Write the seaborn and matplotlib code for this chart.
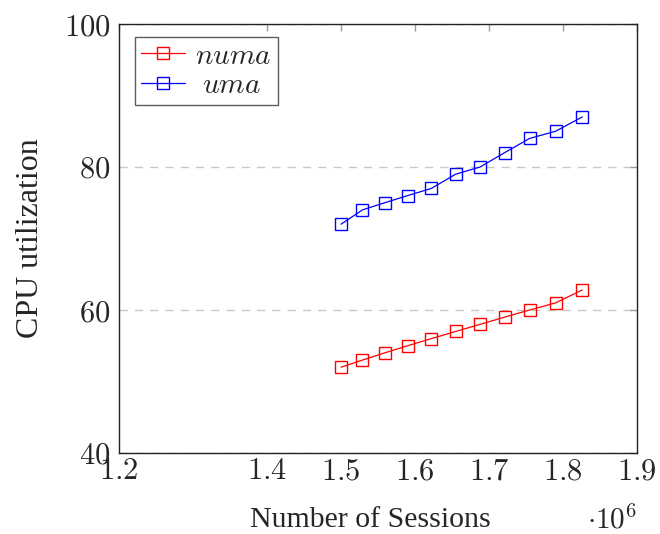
import matplotlib
matplotlib.use("Agg")
import matplotlib.pyplot as plt
import seaborn as sns
import pandas as pd
from matplotlib.ticker import FixedLocator, FuncFormatter

# Measured CPU utilization for NUMA vs UMA configurations
sessions = [1_500_000, 1_529_000, 1_559_000, 1_590_000, 1_622_000, 1_655_000,
            1_688_000, 1_721_000, 1_755_000, 1_790_000, 1_826_000]
numa_cpu = [52, 53, 54, 55, 56, 57, 58, 59, 60, 61, 62.8]
uma_cpu = [72, 74, 75, 76, 77, 79, 80, 82, 84, 85, 87]
x_ticks = [1.2e6, 1.4e6, 1.5e6, 1.6e6, 1.7e6, 1.8e6, 1.9e6]
y_ticks = [40, 60, 80, 100]

sns.set_theme(style="white")
plt.rcParams["font.family"] = ["Liberation Serif", "DejaVu Serif"]
plt.rcParams["mathtext.fontset"] = "cm"

fig = plt.figure(figsize=(6.6, 5.34), dpi=100)
ax = fig.add_axes([119 / 660, 1 - 453 / 534, (637 - 119) / 660, (453 - 24) / 534])

df = pd.DataFrame({"sessions": sessions, "numa": numa_cpu, "uma": uma_cpu})
# the thin space centres the shorter entry under the longer one
for col, color, label in [("numa", "red", r"$numa$"), ("uma", "blue", r"$\;uma$")]:
    sns.lineplot(data=df, x="sessions", y=col, ax=ax, color=color, linewidth=0.9,
                 marker="s", markersize=8, markerfacecolor="none",
                 markeredgecolor=color, markeredgewidth=1.0, label=label)

ax.set_xlim(1.2e6, 1.9e6)
ax.set_ylim(40, 100)
ax.xaxis.set_major_locator(FixedLocator(x_ticks))
ax.yaxis.set_major_locator(FixedLocator(y_ticks))
ax.xaxis.set_major_formatter(FuncFormatter(lambda v, p: rf"${v / 1e6:.1f}$"))
ax.yaxis.set_major_formatter(FuncFormatter(lambda v, p: rf"${v:.0f}$"))

ax.tick_params(axis="both", direction="in", length=5, width=1.0, color="#999999",
               labelsize=22, top=True, right=True, pad=6)
ax.tick_params(axis="x", pad=3)

ax.yaxis.grid(True, linestyle=(0, (6, 5)), color="#c8c8c8", linewidth=1.0)
ax.xaxis.grid(False)
for s in ax.spines.values():
    s.set_color("#222222")
    s.set_linewidth(1.0)

ax.set_xlabel("Number of Sessions", fontsize=21.5)
ax.xaxis.set_label_coords(0.485, -0.126, transform=ax.transAxes)
ax.xaxis.label.set_va("top")
ax.set_ylabel("CPU utilization", fontsize=23, labelpad=14)
ax.text(1.0, -0.155, r"$\cdot 10^6$", transform=ax.transAxes, fontsize=21,
        ha="right", va="center")

leg = ax.legend(loc="upper left", bbox_to_anchor=(0.03, 0.97), fontsize=21,
                frameon=True, fancybox=False, edgecolor="#333333",
                handlelength=1.5, handletextpad=0.35, borderpad=0.22,
                labelspacing=0.1, borderaxespad=0)
leg.get_frame().set_linewidth(1.0)
# a touch of extra room on the right of the legend entries
for t in leg.get_texts():
    t.set_text(t.get_text() + r"$\,$")

fig.savefig("out.png", dpi=100)
